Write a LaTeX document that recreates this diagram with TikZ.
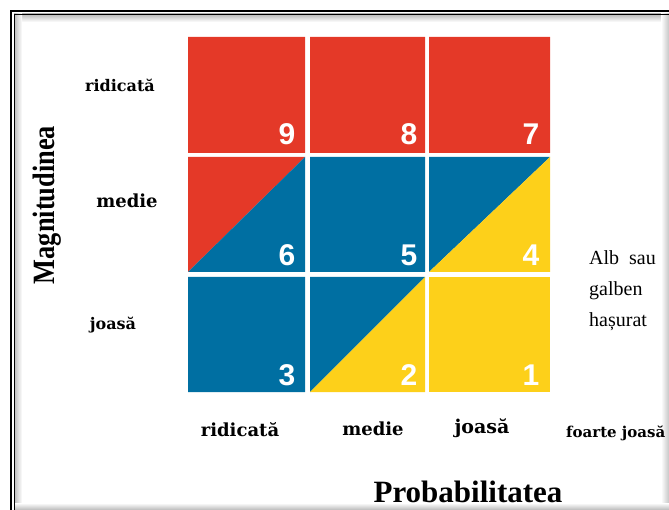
\documentclass[tikz,border=0pt]{standalone}
\usepackage{fontspec}
\setmainfont{Liberation Serif}
\newfontfamily\numfont{Liberation Sans}
\newfontfamily\lblfont{DejaVu Serif}
\definecolor{riskred}{RGB}{228,57,40}
\definecolor{riskblue}{RGB}{0,111,162}
\definecolor{riskyellow}{RGB}{253,208,26}
\tikzset{
  num/.style = {anchor=base, inner sep=0pt, text=white, font=\numfont\bfseries\fontsize{30}{30}\selectfont},
  lbl/.style = {anchor=base, inner sep=0pt, font=\lblfont\bfseries\fontsize{#1}{#1}\selectfont},
  note/.style = {anchor=base west, inner sep=0pt, font=\fontsize{20}{20}\selectfont},
  title/.style = {anchor=base, inner sep=0pt, font=\bfseries\fontsize{31}{31}\selectfont}
}
\begin{document}
\begin{tikzpicture}[x=1pt, y=-1pt]
      \useasboundingbox (0,0) rectangle (669,510);
      % frame with shadow
      \shade [top color=gray!55, bottom color=white] (14,14) rectangle (669,22);
      \shade [left color=gray!55, right color=white] (14,14) rectangle (22,510);
      \shade [left color=white, right color=gray!45] (661,14) rectangle (669,510);
      \shade [top color=white, bottom color=gray!55] (14,503) rectangle (669,510);
      \draw [line width=1.3pt] (11,510) -- (11,11) -- (669,11);
      \draw [line width=1.3pt] (14.5,510) -- (14.5,14.5) -- (669,14.5);
      % cells
      \fill [riskred] (188,37) rectangle (305,153) (310,37) rectangle (425,153) (429,37) rectangle (550,153);
      \fill [riskblue] (310,157) rectangle (425,272) (188,277) rectangle (305,392);
      \fill [riskyellow] (429,277) rectangle (550,392);
      \fill [riskred] (188,157) -- (305,157) -- (188,272) -- cycle;
      \fill [riskblue] (305,157) -- (305,272) -- (188,272) -- cycle;
      \fill [riskblue] (429,157) -- (550,157) -- (429,272) -- cycle;
      \fill [riskyellow] (550,157) -- (550,272) -- (429,272) -- cycle;
      \fill [riskblue] (310,277) -- (425,277) -- (310,392) -- cycle;
      \fill [riskyellow] (425,277) -- (425,392) -- (310,392) -- cycle;
      % scores
      \node [num] (n9) at (287,145) {9};
      \node [num] (n8) at (409,145) {8};
      \node [num] (n7) at (531,145) {7};
      \node [num] (n6) at (287,266) {6};
      \node [num] (n5) at (409,266) {5};
      \node [num] (n4) at (531,266) {4};
      \node [num] (n3) at (287,385) {3};
      \node [num] (n2) at (409,385) {2};
      \node [num] (n1) at (531,385) {1};
      % magnitude
      \node [lbl=16] (magHigh) at (120,92) {ridicată};
      \node [lbl=18] (magMed) at (127,208) {medie};
      \node [lbl=16] (magLow) at (113,330) {joasă};
      \node [rotate=90, inner sep=0pt, font=\bfseries\fontsize{31}{31}\selectfont] (magTitle) at (47,205) {\scalebox{0.85}[1]{Magnitudinea}};
      % probability
      \node [lbl=18] (probHigh) at (240,436) {ridicată};
      \node [lbl=18] (probMed) at (373,435) {medie};
      \node [lbl=19] (probLow) at (482,433) {joasă};
      \node [lbl=15, anchor=base west] (probVLow) at (566,437) {foarte joasă};
      \node [title] (probTitle) at (468,502) {Probabilitatea};
      \node [note] (noteA) at (589,265) {Alb\ \ sau};
      \node [note] (noteB) at (589,296) {galben};
      \node [note] (noteC) at (589,327) {hașurat};
    \end{tikzpicture}
\end{document}
